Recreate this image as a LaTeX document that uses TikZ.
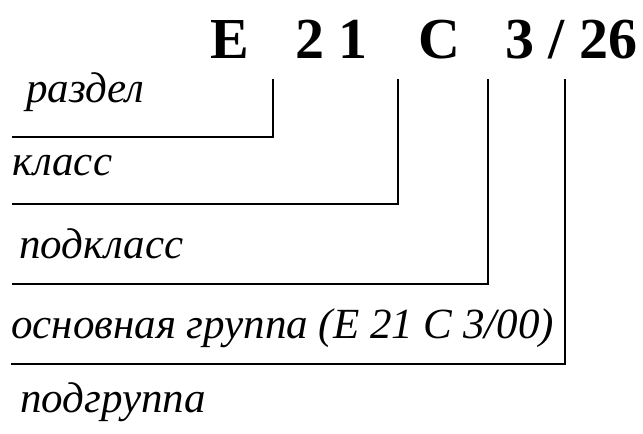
\documentclass[tikz,border=0pt]{standalone}
\usepackage{fontspec}
\setmainfont{Liberation Serif}
\begin{document}
\begin{tikzpicture}[x=1pt,y=-1pt,
  code/.style={inner sep=0pt,anchor=base west,font=\fontsize{58}{60}\selectfont\bfseries},
  lbl/.style={inner sep=0pt,anchor=base west,font=\fontsize{43}{46}\selectfont\itshape},
  rule/.style={line width=1.5pt,line cap=rect}]
\useasboundingbox (0,0) rectangle (643,434);

% code of the classification index
\node[code] (cE)  at (210,58) {E};
\node[code] (c21) at (295,58) {2 1};
\node[code] (cC)  at (418,58) {C};
\node[code] (c3)  at (505,58) {3 / 26};

% levels of the index
\node[lbl] (l1) at (26,102) {раздел};
\node[lbl] (l2) at (12,175) {класс};
\node[lbl] (l3) at (19,258) {подкласс};
\node[lbl] (l4) at (11,338) {основная группа (E 21 C 3/00)};
\node[lbl] (l5) at (20,412) {подгруппа};

% tops of the pointer lines under the code
\coordinate (t1) at (273,80);
\coordinate (t2) at (398,80);
\coordinate (t3) at (488,80);
\coordinate (t4) at (565,80);
% left ends of the underlines
\coordinate (u1) at (13,137);
\coordinate (u2) at (13,204);
\coordinate (u3) at (13,284);
\coordinate (u4) at (12,364);

\draw[rule] (u1) -| (t1);
\draw[rule] (u2) -| (t2);
\draw[rule] (u3) -| (t3);
\draw[rule] (u4) -| (t4);
\end{tikzpicture}
\end{document}
